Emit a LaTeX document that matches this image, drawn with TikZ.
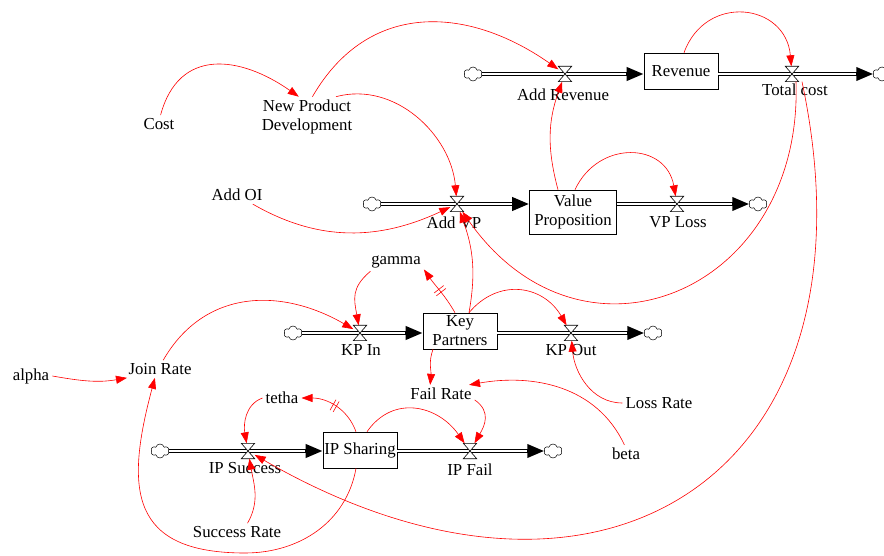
\documentclass[tikz,border=0pt]{standalone}
\usepackage{fontspec}
\setmainfont{Liberation Serif}
\usetikzlibrary{
    arrows.meta,         % Tips for pipes and links.
    shapes.symbols,      % Clouds at the pipe ends.
    decorations.markings % Delay marks on two links.
}

\begin{document}
\begin{tikzpicture}[%
        x = 1pt, y = 1pt,
        font = \fontsize{16.8}{19}\selectfont,
        stock/.style = {draw, fill = white, line width = 0.6pt, align = center, inner sep = 1pt},
        aux/.style = {align = center, inner sep = 3pt},
        flowlabel/.style = {inner sep = 1pt},
        valve/.style = {minimum width = 13pt, minimum height = 15pt, inner sep = 0pt},
        cloudnode/.style = {cloud, cloud puffs = 6, draw, line width = 0.5pt,
            minimum width = 18pt, minimum height = 14pt, inner sep = 0pt},
        pipeout/.style = {line width = 3.6pt, -{Triangle[length = 17pt, width = 13pt]}},
        pipein/.style = {white, line width = 1.6pt, shorten > = 17.5pt},
        link/.style = {red, line width = 0.6pt, -{Triangle[length = 11pt, width = 8pt]}},
        delaylink/.style = {postaction = {decorate, decoration = {markings,
            mark = at position 0.5 with {\draw[red, line width = 0.6pt, -]
                (-1.8,-6) -- (-1.8,6) (1.8,-6) -- (1.8,6);}}}}
    ]

    \useasboundingbox (0,0) rectangle (884,555);

    % Stocks.
    \node[stock, minimum width = 74pt, minimum height = 36pt] (rev) at (681,484) {Revenue};
    \node[stock, minimum width = 87pt, minimum height = 44pt] (vp) at (573,343) {Value\\Proposition};
    \node[stock, minimum width = 74pt, minimum height = 36pt] (kp) at (460,224) {Key\\Partners};
    \node[stock, minimum width = 74pt, minimum height = 36pt] (ips) at (360,105) {IP Sharing};

    % Clouds at the ends of the pipes.
    \node[cloudnode] (cla) at (473,481) {};
    \node[cloudnode] (clb) at (882,481) {};
    \node[cloudnode] (clc) at (372,351) {};
    \node[cloudnode] (cld) at (758,351) {};
    \node[cloudnode] (cle) at (293,222) {};
    \node[cloudnode] (clf) at (653,222) {};
    \node[cloudnode] (clg) at (160,104) {};
    \node[cloudnode] (clh) at (553,104) {};

    % Valves on the pipes.
    \node[valve] (addrev) at (565,481) {};
    \node[valve] (tcost) at (792,481) {};
    \node[valve] (addvp) at (457,351) {};
    \node[valve] (vploss) at (677,351) {};
    \node[valve] (kpin) at (360,222) {};
    \node[valve] (kpout) at (571,222) {};
    \node[valve] (ipsucc) at (248,104) {};
    \node[valve] (ipfail) at (470,104) {};

    % Names of the flows.
    \node[flowlabel] (addrevlbl) at (563,460) {Add Revenue};
    \node[flowlabel] (tcostlbl) at (795,465) {Total cost};
    \node[flowlabel] (addvplbl) at (454,332) {Add VP};
    \node[flowlabel] (vplosslbl) at (678,333) {VP Loss};
    \node[flowlabel] (kpinlbl) at (361,205) {KP In};
    \node[flowlabel] (kpoutlbl) at (571,205) {KP Out};
    \node[flowlabel] (ipsucclbl) at (245,87) {IP Success};
    \node[flowlabel] (ipfaillbl) at (470,85) {IP Fail};

    % Auxiliary variables.
    \node[aux] (cost) at (159,431) {Cost};
    \node[aux] (npd) at (307,438) {New Product\\Development};
    \node[aux] (addoi) at (237,360) {Add OI};
    \node[aux] (gamma) at (396,293) {gamma};
    \node[aux] (alpha) at (31,179) {alpha};
    \node[aux] (joinrate) at (160,186) {Join Rate};
    \node[aux] (tetha) at (282,157) {tetha};
    \node[aux] (failrate) at (441,161) {Fail Rate};
    \node[aux] (lossrate) at (659,152) {Loss Rate};
    \node[aux] (beta) at (626,101) {beta};
    \node[aux] (succrate) at (237,23) {Success Rate};
    \coordinate (jrbot) at (245,2);

    % Pipes into and out of the stocks.
    \foreach \cl/\st in {cla/rev, clc/vp, cle/kp, clg/ips} {
        \draw[pipeout] (\cl.east) -- (\cl.east -| \st.west);
        \draw[pipein] (\cl.east) -- (\cl.east -| \st.west);
    }
    \foreach \st/\cl in {rev/clb, vp/cld, kp/clf, ips/clh} {
        \draw[pipeout] (\cl.west -| \st.east) -- (\cl.west);
        \draw[pipein] (\cl.west -| \st.east) -- (\cl.west);
    }

    % Hourglass valves on top of the pipes.
    \foreach \v in {addrev, tcost, addvp, vploss, kpin, kpout, ipsucc, ipfail}
        \draw[fill = white, line width = 0.6pt] (\v.north west) -- (\v.north east)
            -- (\v.south west) -- (\v.south east) -- cycle;

    % Causal links.
    \draw[link] (cost.80) to[out = 75, in = 145, looseness = 1.3] (npd.112);
    \draw[link] (npd.75) to[out = 60, in = 145, looseness = 1.15] (addrev);
    \draw[link] (npd.35) to[out = 15, in = 95] (addvp);
    \draw[link] (addoi.-30) to[out = -30, in = 205] (addvp);
    \draw[link] ([xshift = -15pt]vp.north) to[out = 105, in = 250] (addrev);
    \draw[link] ([xshift = 2pt]vp.north) to[out = 65, in = 100, looseness = 1.4] (vploss);
    \draw[link] ([xshift = 3pt]rev.north) to[out = 70, in = 95, looseness = 1.5] (tcost);
    \draw[link] ([xshift = 4pt]tcost.south) to[out = -88, in = -55, looseness = 1.5] (addvp);
    \draw[link] ([xshift = 10pt]tcost.south) to[out = -78, in = -30, looseness = 1.55] (ipsucc);
    \draw[link] ([xshift = 9pt]kp.north) to[out = 80, in = -70] (addvp);
    \draw[link, delaylink] ([xshift = -5pt]kp.north) to[out = 120, in = -55] (gamma.-15);
    \draw[link] (gamma.200) to[out = 220, in = 100, looseness = 1.2] (kpin);
    \draw[link] (joinrate.70) to[out = 60, in = 150, looseness = 1.1] (kpin);
    \draw[link] ([xshift = 9pt]kp.north) to[out = 50, in = 120, looseness = 1.2] (kpout);
    \draw[link] ([xshift = -27pt]kp.south) to[out = -110, in = 85] (failrate.140);
    \draw[link] (beta.100) to[out = 115, in = 10] (failrate.18);
    \draw[link] (lossrate.west) to[out = 180, in = -85] (kpout);
    \draw[link] (failrate.-10) to[out = -35, in = 60, looseness = 1.2] (ipfail);
    \draw[link] ([xshift = 7pt]ips.north) to[out = 55, in = 125, looseness = 1.2] (ipfail);
    \draw[link, delaylink] ([xshift = -4pt]ips.north) to[out = 110, in = 0] (tetha.east);
    \draw[link] (tetha.west) to[out = 200, in = 100] (ipsucc);
    \draw[link] (succrate.40) to[out = 60, in = -80] (ipsucc);
    \draw[link] ([xshift = -4pt]ips.south) to[out = -100, in = 0] (jrbot)
        to[out = 180, in = -105, looseness = 1.5] (joinrate.-120);
    \draw[link] (alpha.east) to[out = -10, in = 190] (joinrate.195);
\end{tikzpicture}
\end{document}
